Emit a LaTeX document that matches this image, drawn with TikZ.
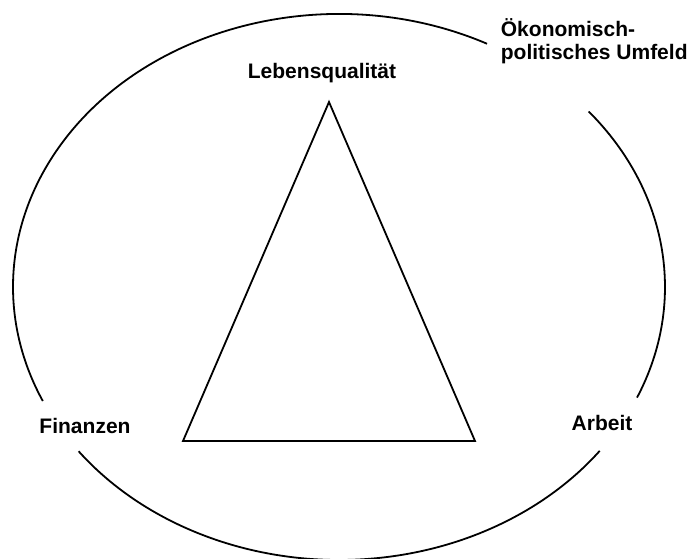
\documentclass[tikz,border=0pt]{standalone}
\usepackage{fontspec}
\setmainfont{Liberation Sans}
\usetikzlibrary{calc}
\begin{document}
\begin{tikzpicture}[x=1pt, y=1pt, line width=1.8pt]
      \useasboundingbox (0,0) rectangle (691,559);
      \coordinate (c) at (339,272);
      \coordinate (top) at (329,457);
      \coordinate (left) at (183,118);
      \coordinate (right) at (475,118);

      \node[anchor=base] (lq) at (322,480) {\fontsize{21}{23}\selectfont\bfseries Lebensqualität};
      \node[anchor=base] (fin) at (85,125) {\fontsize{21}{23}\selectfont\bfseries Finanzen};
      \node[anchor=base] (arb) at (602,128) {\fontsize{21}{23}\selectfont\bfseries Arbeit};
      \node[anchor=base west, inner sep=0, align=left, font=\fontsize{21}{23}\selectfont\bfseries] (umf) at (500,499) {Ökonomisch-\\politisches Umfeld};

      % ellipse with openings at the labels
      \foreach \from/\to in {-23.9/40, 63/204.7, 217/323.1}
        \draw ($(c)+({326*cos(\from)},{273*sin(\from)})$) arc[start angle=\from, end angle=\to, x radius=326, y radius=273];

      \draw (top) -- (right) -- (left) -- cycle;
    \end{tikzpicture}
\end{document}
